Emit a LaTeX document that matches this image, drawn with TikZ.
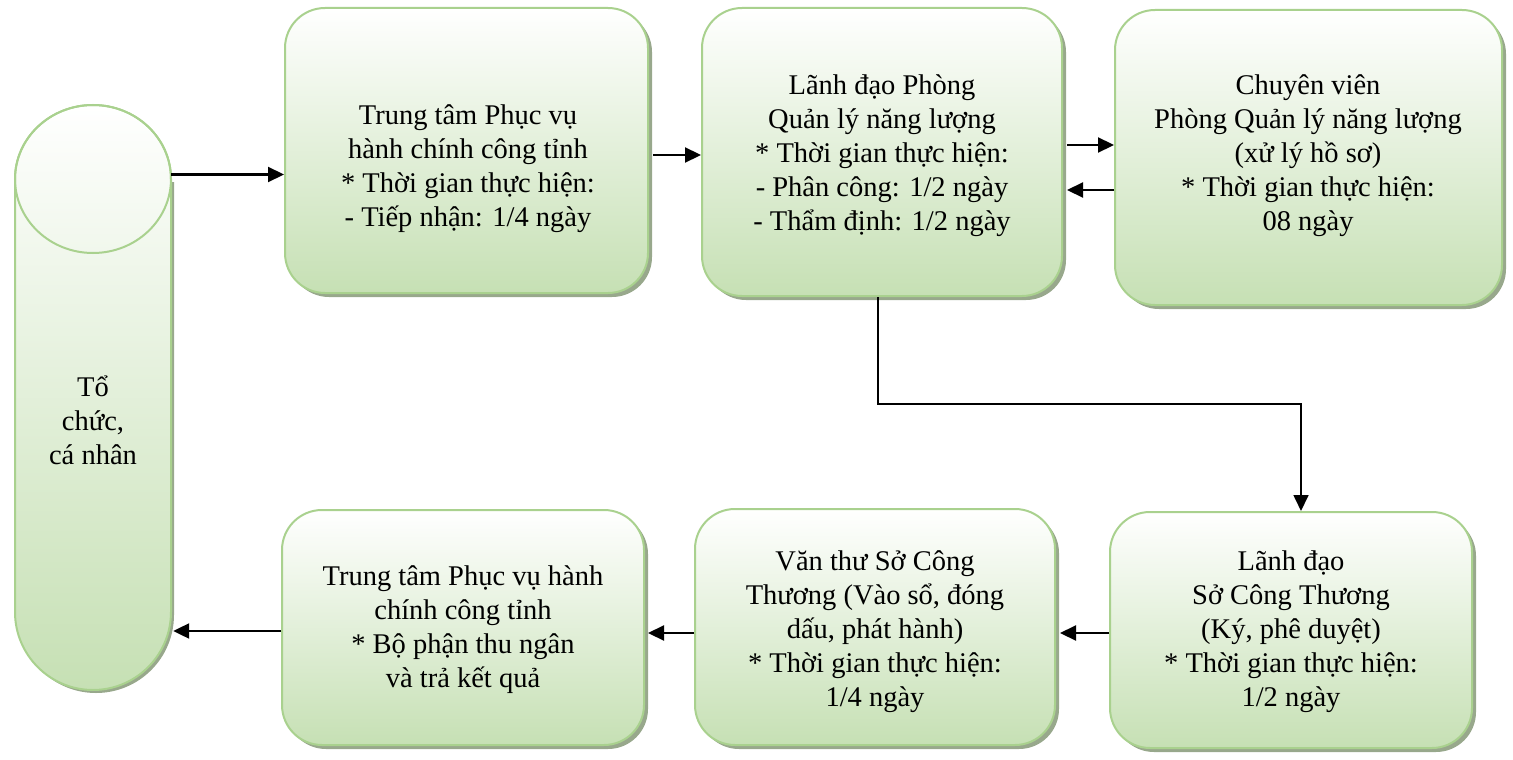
\documentclass[tikz,border=0pt]{standalone}
\usepackage{fontspec}
\setmainfont{Liberation Serif}
\usetikzlibrary{arrows.meta,shadows,calc}
\definecolor{gbot}{RGB}{198,224,180}
\definecolor{gline}{RGB}{169,209,142}
\definecolor{gshadow}{RGB}{152,168,140}
\begin{document}
\begin{tikzpicture}[x=1pt,y=-1pt,
  stagebox/.style={rectangle, rounded corners=40pt, draw=gline, line width=2pt,
    top color=white, bottom color=gbot, inner sep=0pt,
    drop shadow={shadow xshift=4pt, shadow yshift=-4pt, fill=gshadow, opacity=1}},
  txt/.style={align=center, inner sep=0pt, font=\fontsize{28.5}{34}\selectfont},
  arr/.style={line width=2.2pt, -{Triangle[length=16pt,width=15pt]}},
  thinarr/.style={line width=1.7pt, -{Triangle[length=16pt,width=15pt]}}]
\useasboundingbox (0,0) rectangle (1513,760);

% left "can" shape
\fill[gshadow] (18,182) -- (18,615) arc[start angle=180,end angle=0,x radius=78,y radius=78] -- (174,182) -- cycle;
\path[draw=gline, line width=2pt, top color=white, bottom color=gbot]
  (15,179) -- (15,612) arc[start angle=180,end angle=0,x radius=78,y radius=78]
  -- (171,179) arc[start angle=0,end angle=-180,x radius=78,y radius=74] -- cycle;
\draw[gline, line width=2pt] (93,179) ellipse[x radius=78, y radius=74];
\node[inner sep=0pt, minimum width=156pt, minimum height=585pt] (can) at (93,397.5) {};
\node[txt] (tcan) at (93,420) {Tổ\\chức,\\cá nhân};

% boxes
\node[stagebox, minimum width=363pt, minimum height=285pt] (b1) at (466.5,150.5) {};
\node[stagebox, minimum width=360pt, minimum height=288pt] (b2) at (882,152) {};
\node[stagebox, minimum width=387pt, minimum height=295pt] (b3) at (1308.5,157.5) {};
\node[stagebox, minimum width=362pt, minimum height=235pt] (b4) at (463,627.5) {};
\node[stagebox, minimum width=360pt, minimum height=236pt] (b5) at (875,627) {};
\node[stagebox, minimum width=362pt, minimum height=236pt] (b6) at (1291,630) {};

% texts
\node[txt] (t1) at (468,169) {Trung tâm Phục vụ\\hành chính công tỉnh\\* Thời gian thực hiện:\\- Tiếp nhận: 1/4 ngày};
\node[txt] (t2) at (882,156) {Lãnh đạo Phòng\\Quản lý năng lượng\\* Thời gian thực hiện:\\- Phân công: 1/2 ngày\\- Thẩm định: 1/2 ngày};
\node[txt] (t3) at (1308,156) {Chuyên viên\\Phòng Quản lý năng lượng\\(xử lý hồ sơ)\\* Thời gian thực hiện:\\08 ngày};
\node[txt] (t4) at (463,630) {Trung tâm Phục vụ hành\\chính công tỉnh\\* Bộ phận thu ngân\\và trả kết quả};
\node[txt] (t5) at (875,632) {Văn thư Sở Công\\Thương (Vào sổ, đóng\\dấu, phát hành)\\* Thời gian thực hiện:\\1/4 ngày};
\node[txt] (t6) at (1291,632) {Lãnh đạo\\Sở Công Thương\\(Ký, phê duyệt)\\* Thời gian thực hiện:\\1/2 ngày};

% connectors
\coordinate (p1) at ($(b1.west)+(0,24)$);
\draw[arr] (can.east |- p1) -- (p1);
\coordinate (p2) at ($(b2.west)+(0,3)$);
\draw[arr, shorten <=4pt] (b1.east |- p2) -- (p2);
\coordinate (p3) at ($(b3.west)+(0,-12.5)$);
\draw[arr, shorten <=4pt] (b2.east |- p3) -- (p3);
\coordinate (p4) at ($(b2.east)+(0,38)$);
\draw[arr, shorten >=4pt] (b3.west |- p4) -- (p4);
\coordinate (e0) at ($(b2.south)+(-4,0)$);
\coordinate (e1) at ($(b6.north)+(10,0)$);
\coordinate (mid) at ($(e0)!0.5!(e1)$);
\draw[thinarr] (e0) |- (mid) -| (e1);
\coordinate (p5) at ($(b6.west)+(0,3)$);
\draw[arr, shorten >=4pt] (p5) -- (b5.east |- p5);
\coordinate (p6) at ($(b5.west)+(0,6)$);
\draw[arr, shorten >=3pt] (p6) -- (b4.east |- p6);
\coordinate (p7) at ($(b4.west)+(0,3.5)$);
\draw[arr, shorten >=2pt] (p7) -- (can.east |- p7);
\end{tikzpicture}
\end{document}
